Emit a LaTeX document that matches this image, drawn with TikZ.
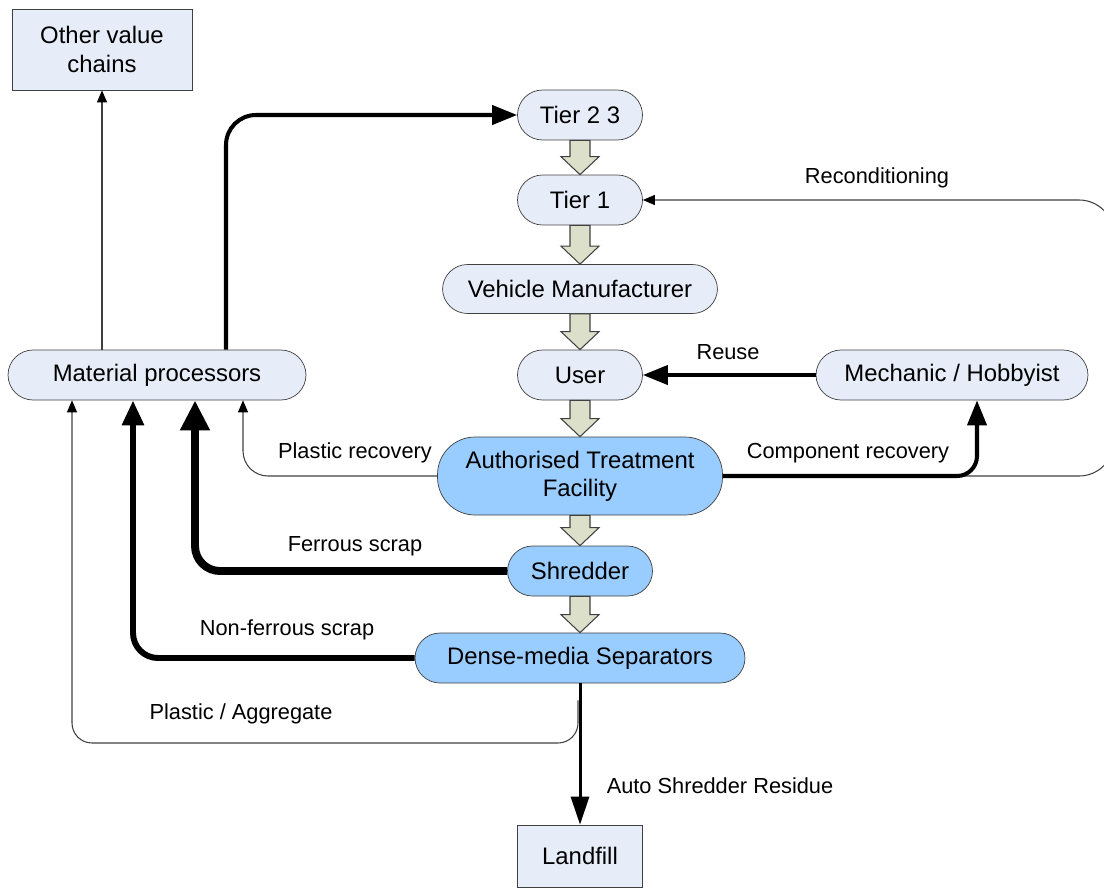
\documentclass[tikz,border=0pt]{standalone}
\usepackage{fontspec}
\setmainfont{Liberation Sans}
\usetikzlibrary{calc}
\usetikzlibrary{arrows.meta}

\definecolor{paleblue}{HTML}{E7EDF8}
\definecolor{atfblue}{HTML}{99CCFF}
\definecolor{flowgrey}{HTML}{DCDFCA}
\definecolor{edgegrey}{HTML}{404040}

\newcommand{\downflow}[2]{%
	\path (#1.south) coordinate (fa) (#2.north) coordinate (fb);
	\draw[flow] ($(fa)+(-10,0)$) -- ($(fa)+(10,0)$) -- ($(fb)+(10,-18)$) -- ($(fb)+(19,-18)$)
		-- (fb) -- ($(fb)+(-19,-18)$) -- ($(fb)+(-10,-18)$) -- cycle;}

\begin{document}
\begin{tikzpicture}[x=0.02cm, y=-0.02cm, font=\fontsize{13.6}{16}\selectfont,
	pill/.style = {draw=edgegrey, fill=paleblue, rounded corners=0.5cm, inner sep=0pt, minimum height=1cm},
	plant/.style = {pill, fill=atfblue},
	sink/.style = {draw=edgegrey, fill=paleblue, inner sep=0pt, align=center},
	flow/.style = {draw=edgegrey, fill=flowgrey, line width=0.6pt},
	thin/.style = {draw=edgegrey, line width=0.6pt, -{Triangle[length=0.24cm, width=0.2cm, color=black]}},
	bold/.style = {line width=2.3pt, -{Triangle[length=0.5cm, width=0.38cm]}},
	label/.style = {inner sep=0pt, font=\fontsize{12.4}{15}\selectfont},
	]
	\useasboundingbox (0,0) rectangle (1104,889);

	% boxes
	\node[sink, minimum width=3.6cm, minimum height=1.62cm] (ovc) at (102,49.5) {Other value\\chains};
	\node[pill, minimum width=2.5cm] (t23) at (580,115) {Tier 2 3};
	\node[pill, minimum width=2.5cm] (t1) at (580,200) {Tier 1};
	\node[pill, minimum width=5.5cm, minimum height=0.98cm] (vm) at (580,289) {Vehicle Manufacturer};
	\node[pill, minimum width=2.5cm] (user) at (580,375) {User};
	\node[pill, minimum width=5.44cm] (mh) at (952,375) {Mechanic / Hobbyist};
	\node[pill, minimum width=5.96cm] (mp) at (157,375) {Material processors};
	\node[plant, minimum width=5.7cm, minimum height=1.56cm, rounded corners=0.75cm, align=center] (atf) at (580,476) {Authorised Treatment\\Facility};
	\node[plant, minimum width=2.9cm] (shr) at (580,571) {Shredder};
	\node[plant, minimum width=6.6cm] (dms) at (580,658) {Dense-media Separators};
	\node[sink, minimum width=2.5cm, minimum height=1.24cm] (lf) at (580,856) {Landfill};

	% main chain
	\downflow{t23}{t1}
	\downflow{t1}{vm}
	\downflow{vm}{user}
	\downflow{user}{atf}
	\downflow{atf}{shr}
	\downflow{shr}{dms}

	% x and y positions of the bends
	\coordinate (upx) at (226,0);
	\coordinate (fex) at (195,0);
	\coordinate (nfx) at (133,0);
	\coordinate (prx) at (243,0);
	\coordinate (pax) at (72,0);
	\coordinate (pay) at (0,743);
	\coordinate (crx) at (977,0);
	\coordinate (rcx) at (900,0);
	\coordinate (rex) at (1114,0);

	\draw[thin] (mp.north -| ovc.south) -- (ovc.south); % to other value chains
	\draw[bold, rounded corners=0.6cm] (mp.north -| upx) |- (t23.west); % back to tier 2 3
	\draw[thin, rounded corners=0.7cm] (atf.east -| rcx) -- (atf.east -| rex) -- (t1.east -| rex) -- (t1.east);
	\node[label] (rclab) at (877,178) {Reconditioning};
	\draw[bold, rounded corners=0.4cm] (atf.east) -| (mh.south -| crx) ;
	\node[label] (crlab) at (848,453) {Component recovery};
	\draw[bold] (mh.west) -- (user.east);
	\node[label] (rulab) at (728,352) {Reuse};
	\draw[thin, rounded corners=0.5cm] (atf.west) -| (mp.south -| prx);
	\node[label] (prlab) at (355,453) {Plastic recovery};
	\draw[bold, line width=4.5pt, -{Triangle[length=0.6cm, width=0.56cm]}, rounded corners=0.5cm] (shr.west) -| (mp.south -| fex);
	\node[label] (felab) at (355,546) {Ferrous scrap};
	\draw[bold, line width=3.4pt, -{Triangle[length=0.5cm, width=0.42cm]}, rounded corners=0.5cm] (dms.west) -| (mp.south -| nfx);
	\node[label] (nflab) at (287,630) {Non-ferrous scrap};
	\draw[thin, rounded corners=0.4cm] ($(dms.south)+(-2,17)$) |- (pay -| pax) -- (mp.south -| pax);
	\node[label] (palab) at (241,714) {Plastic / Aggregate};
	\draw[bold, line width=1.7pt, -{Triangle[length=0.56cm, width=0.36cm]}] (dms.south) -- (lf.north);
	\node[label] (aslab) at (720,786) {Auto Shredder Residue};

\end{tikzpicture}
\end{document}
